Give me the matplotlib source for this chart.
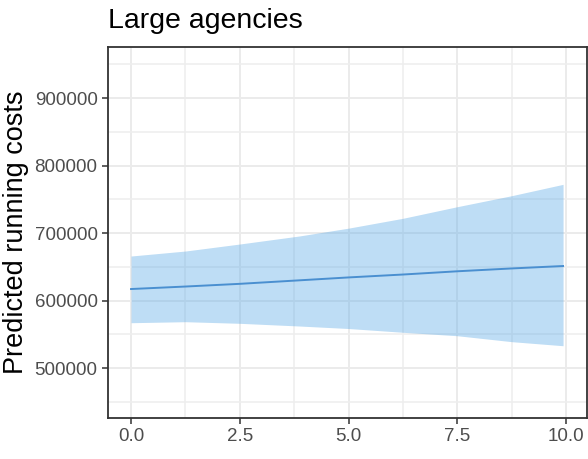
import matplotlib
matplotlib.use('Agg')
import matplotlib.pyplot as plt
from matplotlib.ticker import MultipleLocator

# Valores (prediccion y banda de confianza)
x_vals = [0.0, 1.25, 2.5, 3.87, 5.0, 6.25, 7.5, 8.75, 9.93]
pred = [617300, 621000, 625000, 630200, 634500, 638800, 643600, 647800, 651400]
upper = [666200, 673600, 684000, 695900, 707500, 722100, 739300, 755600, 772400]
lower = [567400, 568900, 566500, 562500, 558800, 553200, 548100, 539300, 533300]

x_ticks = [0.0, 2.5, 5.0, 7.5, 10.0]
y_ticks = [500000, 600000, 700000, 800000, 900000]

plt.rcParams['font.family'] = ['Liberation Sans', 'DejaVu Sans']

fig = plt.figure(figsize=(5.88, 4.59), dpi=100)
ax = fig.add_axes([0.1837, 0.0893, 0.8146, 0.8083])

ax.fill_between(x_vals, lower, upper, color='#5DAAE6', alpha=0.4,
                linewidth=0, zorder=3)
ax.plot(x_vals, pred, color='#4A8FD0', linewidth=1.4, zorder=4)

ax.set_xlim(-0.529, 10.48)
ax.set_ylim(426200, 975900)

ax.set_xticks(x_ticks)
ax.set_xticklabels([f"{t:.1f}" for t in x_ticks])
ax.set_yticks(y_ticks)
ax.set_yticklabels([str(t) for t in y_ticks])
ax.xaxis.set_minor_locator(MultipleLocator(1.25))
ax.set_yticks([450000, 550000, 650000, 750000, 850000, 950000], minor=True)

ax.grid(which='major', color='#EBEBEB', linewidth=1.4, zorder=0)
ax.grid(which='minor', color='#EEEEEE', linewidth=1.1, zorder=0)
ax.set_axisbelow(True)

ax.tick_params(which='major', length=4.5, width=1.1, color='#333333',
               labelsize=13.5, labelcolor='#4D4D4D', pad=3)
ax.tick_params(which='minor', length=0)

for s in ax.spines.values():
    s.set_color('#333333')
    s.set_linewidth(1.3)

ax.set_ylabel('Predicted running costs', fontsize=19.5, color='black',
              labelpad=4)
ax.set_title('Large agencies', fontsize=20.5, loc='left', pad=14)

plt.savefig('out.png', dpi=100)
plt.close()
